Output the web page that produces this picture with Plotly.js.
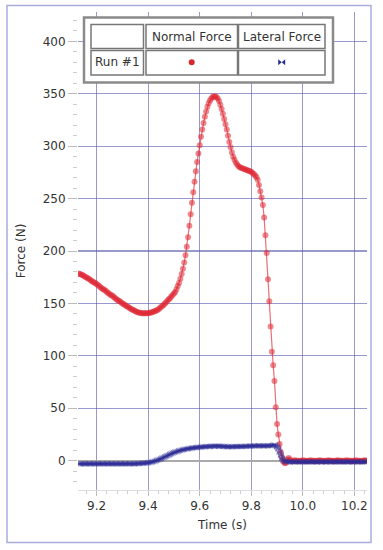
<!DOCTYPE html>
<html>
<head>
<meta charset="utf-8">
<script src="https://cdn.plot.ly/plotly-3.0.1.min.js"></script>
<style>html,body{margin:0;padding:0;background:#fff;}#chart{width:383px;height:550px;}</style>
</head>
<body>
<div id="chart"></div>
<script>
// Sampling: 200 Hz starting at 9.130 s
const T0 = 9.130;
const DT = 0.005;

// Normal Force (N), red
const normalForce = [
 178.5,178,177.5,177,176.5,175.5,175,174,173.5,172.5,
 171.5,171,170,169.5,168.5,167.5,166.5,165.5,164.5,163.5,
 163,162,161,160,159,158,157.5,156.5,155.5,154.5,
 153.5,152.5,152,151,150,149.5,148.5,147.5,147,146,
 145.5,144.5,144,143.5,142.5,142,141.5,141,141,140.5,
 140.5,140.5,140.5,140.5,140.5,141,141,141.5,142,142.5,
 143,143.5,144.5,145.5,146.5,147.5,148.5,150,151,152.5,
 154,155,156.5,158,159.5,161,163.5,166.5,169.5,173.5,
 178,183,189,196,204,213,224,235,246,256,
 266,276,285,293,301,309,316,322,328,333,
 337.5,341,343.5,345.5,347,347.5,347.5,347,345.5,343,
 339.5,335.5,331,326,321,316,310,304,299,294,
 290,287,284.5,282.5,281,280,279.5,279,278.5,278,
 277.5,277,276.5,276,275.5,274.5,273.5,272,270.5,268,
 263,257,251,244,232,215,198,173,152,128,
 104,91,76,51,35,25,16,8,3,-1,
 -2.5,-2,1,2.5,1,0,-0.5,0,0.5,0,
 0,-0.5,0,0,0.5,0,0,-0.5,0,0,
 0.5,0,0,0,-0.5,0,0,0.5,0,0,
 0,-0.5,0,0,0.5,0,0,0,-0.5,0,
 0,0.5,0,0,0,-0.5,0,0,0.5,0,
 0,0,-0.5,0,0,0.5,0,0,0,-0.5,
 0,0,0.5,0,0
];

// Lateral Force (N), blue
const lateralForce = [
 -3,-3.2,-3,-2.9,-3.1,-3,-3.2,-3,-2.9,-3,
 -3.1,-3,-3,-3.2,-3,-2.9,-3,-3.1,-3,-3,
 -3.2,-3,-2.9,-3,-3.1,-3,-3,-3.2,-3,-2.9,
 -3,-3.1,-3,-3,-3.1,-2.9,-3,-3,-3.1,-3,
 -2.9,-3,-3,-3.1,-2.9,-2.9,-2.8,-2.8,-2.7,-2.6,
 -2.5,-2.4,-2.3,-2.2,-2,-1.8,-1.6,-1.3,-1,-0.6,
 -0.2,0.3,0.8,1.3,1.9,2.5,3.1,3.7,4.3,4.9,
 5.5,6.1,6.7,7.2,7.7,8.2,8.6,9,9.4,9.8,
 10.1,10.4,10.7,11,11.2,11.4,11.6,11.8,12,12.2,
 12.4,12.5,12.6,12.8,12.9,13,13.1,13.2,13.3,13.4,
 13.5,13.5,13.6,13.7,13.7,13.8,13.8,13.9,13.9,13.8,
 13.8,13.7,13.6,13.5,13.4,13.3,13.3,13.2,13.2,13.3,
 13.3,13.4,13.4,13.5,13.4,13.4,13.5,13.6,13.6,13.7,
 13.7,13.8,13.8,13.9,14,14,14.1,14,14,14.1,
 14.2,14.2,14.1,14,14,14.1,14.2,14.3,14.2,14.1,
 14.3,14.8,15.2,14.8,13,11,8,5,2,0.5,
 -0.5,-1,-1.2,-1.3,-1.2,-1.1,-1.2,-1.3,-1.2,-1.1,
 -1.2,-1.1,-1.2,-1.3,-1.2,-1.1,-1.2,-1.2,-1.1,-1.2,
 -1.3,-1.2,-1.1,-1.2,-1.2,-1.3,-1.2,-1.1,-1.2,-1.2,
 -1.1,-1.2,-1.3,-1.2,-1.1,-1.2,-1.2,-1.3,-1.2,-1.1,
 -1.2,-1.2,-1.1,-1.2,-1.3,-1.2,-1.1,-1.2,-1.2,-1.3,
 -1.2,-1.1,-1.2,-1.2,-1.3,-1.2,-1.1,-1.2,-1.2,-1.1,
 -1.2,-1.3,-1.2,-1.1,-1.2
];

const time = normalForce.map((_, i) => +(T0 + i * DT).toFixed(3));

const seriesNames = ['Normal Force', 'Lateral Force'];
const runName = 'Run #1';

const RED = 'rgba(222,40,52,0.55)';
const BLUE = 'rgba(45,45,150,0.6)';

const traces = [
  {
    x: time, y: normalForce, type: 'scatter', mode: 'lines+markers', name: seriesNames[0],
    line: {color: 'rgba(230,60,70,0.75)', width: 1.2},
    marker: {symbol: 'circle', size: 6, color: RED, line: {width: 0}},
    showlegend: false
  },
  {
    x: time, y: lateralForce, type: 'scatter', mode: 'lines+markers', name: seriesNames[1],
    line: {color: 'rgba(50,50,160,0.7)', width: 1.2},
    marker: {symbol: 'bowtie', size: 6, color: BLUE, line: {width: 0}},
    showlegend: false
  }
];

// pixel -> paper helpers for the decorative legend table
const L = 78, R = 367, TOP = 12, BOT = 490;
const px = x => (x - L) / (R - L);
const py = y => (BOT - y) / (BOT - TOP);
function rect(x0, y0, x1, y1, color, width, fill) {
  return {type: 'rect', xref: 'paper', yref: 'paper', x0: px(x0), x1: px(x1), y0: py(y1), y1: py(y0),
    line: {color: color, width: width}, fillcolor: fill || 'rgba(0,0,0,0)', layer: 'above'};
}
const shapes = [
  rect(7, 5.5, 371, 542.5, '#a9addb', 1.5),
  rect(84, 17.5, 333, 82.5, '#8a8a8a', 2.5, '#ffffff'),
  rect(91, 24.5, 143.5, 48.5, '#777', 1.5),
  rect(146, 24.5, 237.5, 48.5, '#777', 1.5),
  rect(238.5, 24.5, 325, 48.5, '#777', 1.5),
  rect(91, 50.5, 143.5, 75, '#777', 1.5),
  rect(146, 50.5, 237.5, 75, '#777', 1.5),
  rect(238.5, 50.5, 325, 75, '#777', 1.5),
  {type: 'circle', xref: 'paper', yref: 'paper', x0: px(188.7), x1: px(194.7), y0: py(65.3), y1: py(59.3),
   fillcolor: '#d42a2f', line: {width: 0}, layer: 'above'},
  {type: 'path', xref: 'paper', yref: 'paper', layer: 'above', fillcolor: '#2d2d96', line: {width: 0},
   path: 'M ' + px(278.2) + ' ' + py(59.3) + ' L ' + px(281.7) + ' ' + py(62.3) + ' L ' + px(278.2) + ' ' + py(65.3) + ' Z ' +
         'M ' + px(285.2) + ' ' + py(59.3) + ' L ' + px(281.7) + ' ' + py(62.3) + ' L ' + px(285.2) + ' ' + py(65.3) + ' Z'}
];
const txtFont = {family: 'DejaVu Sans, sans-serif', size: 12, color: '#333'};
const annotations = [
  {text: seriesNames[0], x: px(192), y: py(36.5), xref: 'paper', yref: 'paper', showarrow: false, font: txtFont, xanchor: 'center', yanchor: 'middle'},
  {text: seriesNames[1], x: px(282), y: py(36.5), xref: 'paper', yref: 'paper', showarrow: false, font: txtFont, xanchor: 'center', yanchor: 'middle'},
  {text: runName, x: px(117), y: py(62.5), xref: 'paper', yref: 'paper', showarrow: false, font: txtFont, xanchor: 'center', yanchor: 'middle'}
];

const GRID = 'rgba(85,85,170,0.6)';
const layout = {
  width: 383, height: 550,
  margin: {l: L, r: 383 - R, t: TOP, b: 550 - BOT, pad: 0},
  paper_bgcolor: '#ffffff', plot_bgcolor: '#ffffff',
  font: {family: 'DejaVu Sans, sans-serif', size: 12, color: '#333'},
  showlegend: false,
  xaxis: {
    range: [9.128, 10.249], tick0: 9.2, dtick: 0.2, tickformat: '.1f',
    showgrid: true, gridcolor: GRID, gridwidth: 1.2,
    ticks: 'outside', ticklen: 5, tickcolor: '#bbb', tickwidth: 1,
    showline: true, linecolor: '#dddddd', linewidth: 1,
    zeroline: false, automargin: false,
    minor: {dtick: 0.04, ticks: 'outside', ticklen: 3, tickcolor: '#ccc', showgrid: false},
    title: {text: 'Time (s)', standoff: 8, font: {size: 12, color: '#333'}},
    tickfont: {size: 12, color: '#333'}
  },
  yaxis: {
    range: [-28, 428], tick0: 0, dtick: 50,
    showgrid: true, gridcolor: GRID, gridwidth: 1.2,
    ticks: 'outside', ticklen: 9, tickcolor: '#bbb', tickwidth: 1,
    showline: false,
    zeroline: true, zerolinecolor: '#aaaaaa', zerolinewidth: 2,
    automargin: false,
    minor: {dtick: 10, ticks: 'outside', ticklen: 4, tickcolor: '#ccc', showgrid: false},
    title: {text: 'Force (N)', standoff: 14, font: {size: 12, color: '#333'}},
    tickfont: {size: 12, color: '#333'}
  },
  shapes: shapes,
  annotations: annotations
};

Plotly.newPlot('chart', traces, layout, {staticPlot: true, displayModeBar: false});
</script>
</body>
</html>
